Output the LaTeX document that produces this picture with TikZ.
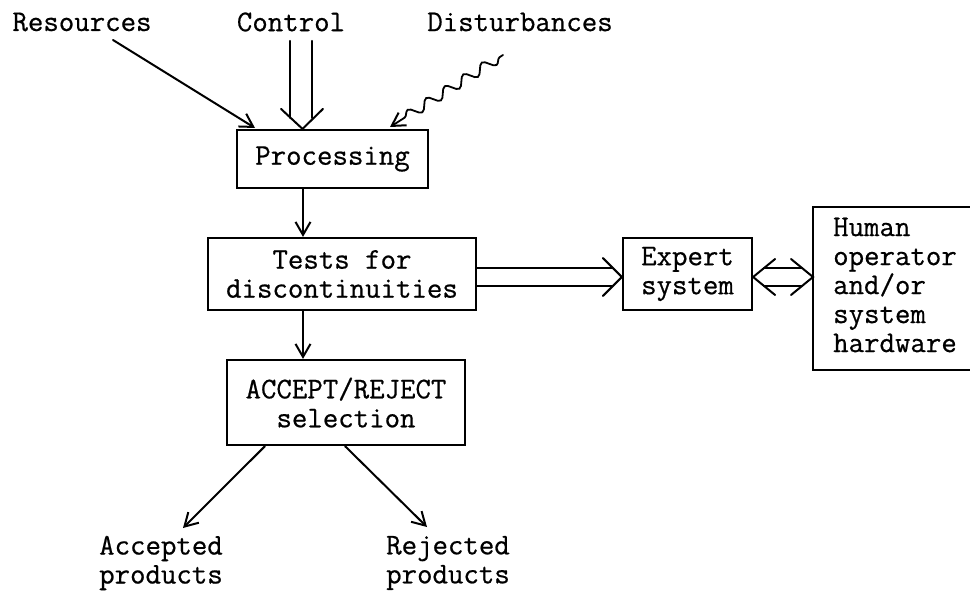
\documentclass[tikz,border=0pt]{standalone}
\usepackage{fontspec}
\newfontfamily\typewriter{Latin Modern Mono}[FakeBold=0.6]
\usetikzlibrary{arrows.meta,calc,decorations.pathmorphing}
\begin{document}
\begin{tikzpicture}[x=1pt,y=-1pt,
  txt/.style={font=\typewriter\fontsize{30}{29}\selectfont},
  lbl/.style={txt, inner sep=0pt, align=center},
  blk/.style={txt, draw, line width=2.2pt, inner sep=0pt, align=center},
  ln/.style={line width=2pt, line cap=round, line join=miter},
  arr/.style={ln, -{Straight Barb[length=13pt,width=15pt,line width=2pt]}}]
\useasboundingbox (0,0) rectangle (970,591);

% labels and blocks
\node[lbl] (res)  at (82,22)  {Resources};
\node[lbl] (ctl)  at (291,22) {Control};
\node[lbl] (dist) at (520,22) {Disturbances};
\node[blk, minimum width=191pt, minimum height=58pt] (proc) at (332.5,159) {Processing};
\node[blk, minimum width=268pt, minimum height=72pt] (tests) at (342,274) {Tests for\\discontinuities};
\node[blk, minimum width=129pt, minimum height=72pt] (exp) at (687.5,274) {Expert\\system};
% operator block runs up to the right margin: only three sides show
\node[txt, inner sep=0pt, align=left, text width=137pt, anchor=west]
  (hum) at (833,285) {Human\\operator\\and/or\\system\\hardware};
\coordinate (humNW) at (813,207);
\coordinate (humSW) at (813,370);
\coordinate (humNE) at (970,207);
\coordinate (humSE) at (970,370);
\draw[line width=2.2pt] (humNE) -- (humNW) -- (humSW) -- (humSE);
\node[blk, minimum width=238pt, minimum height=85pt] (acc) at (346,402.5) {ACCEPT/REJECT\\selection};
\node[lbl] (ap) at (161,563) {Accepted\\products};
\node[lbl] (rp) at (448,563) {Rejected\\products};

% resources
\coordinate (resA) at (113,40);
\coordinate (resB) at (255,128);
\draw[arr] (resA) -- (resB);

% control: double line into processing
\coordinate (ctip) at ([xshift=-30pt]proc.north);
\draw[ln] ($(ctip)+(-12.5,-88)$) -- ($(ctip)+(-12.5,-11)$);
\draw[ln] ($(ctip)+(9.5,-88)$) -- ($(ctip)+(9.5,-11)$);
\draw[ln] ($(ctip)+(-21.5,-20)$) -- (ctip) -- ($(ctip)+(20.5,-20)$);

% disturbances: wavy arrow
\coordinate (dA) at (503,55);
\coordinate (dB) at (390,127);
\draw[arr, line width=1.8pt, decorate,
  decoration={snake, amplitude=5pt, segment length=22pt, pre length=4pt, post length=14pt}]
  (dA) -- (dB);

% vertical flow
\draw[arr] ([xshift=-29.5pt]proc.south) -- ([xshift=-29.5pt]proc.south |- tests.north);
\draw[arr] ([xshift=-39pt]tests.south) -- ([xshift=-39pt]tests.south |- acc.north);

% tests to expert system: double line
\coordinate (eTip) at ([yshift=-3pt]exp.west);
\coordinate (tOut) at ([yshift=-3pt]tests.east);
\draw[ln] ($(tOut)+(0,-9)$) -- ($(eTip)+(-9.5,-9)$);
\draw[ln] ($(tOut)+(0,9)$) -- ($(eTip)+(-9.5,9)$);
\draw[ln] ($(eTip)+(-19,-19)$) -- (eTip) -- ($(eTip)+(-19,19)$);

% expert system <-> human operator: double line, both ways
\coordinate (hL) at ([yshift=-3pt]exp.east);
\coordinate (hR) at (hL -| humNW);
\draw[ln] ($(hL)+(11,-9)$) -- ($(hR)+(-11,-9)$);
\draw[ln] ($(hL)+(11,9)$) -- ($(hR)+(-11,9)$);
\draw[ln] ($(hL)+(22,-18)$) -- (hL) -- ($(hL)+(22,18)$);
\draw[ln] ($(hR)+(-22,-18)$) -- (hR) -- ($(hR)+(-22,18)$);

% outputs
\coordinate (apTip) at (183,528);
\coordinate (rpTip) at (427,527);
\draw[arr] ([xshift=-81pt]acc.south) -- (apTip);
\draw[arr] ([xshift=-1pt]acc.south) -- (rpTip);
\end{tikzpicture}
\end{document}
